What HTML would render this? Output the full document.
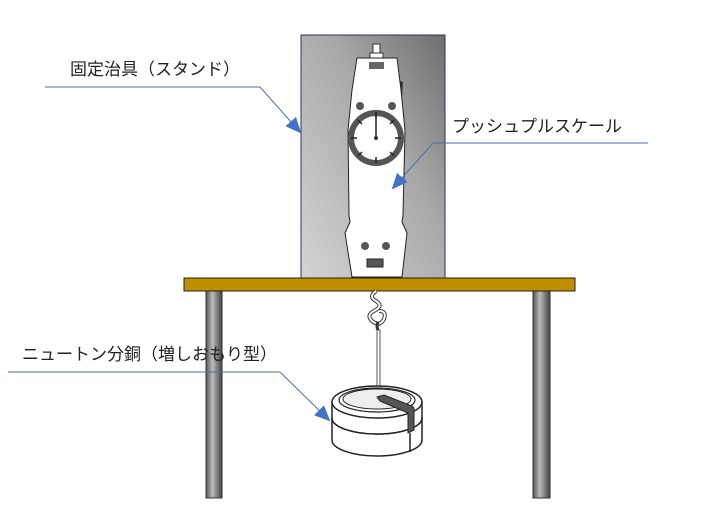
<!DOCTYPE html>
<html><head><meta charset="utf-8"><style>
html,body{margin:0;padding:0;background:#fff;}
svg{display:block;}
text{font-family:"Liberation Sans","Noto Sans CJK JP",sans-serif;font-size:17px;fill:#222;}
</style></head><body>
<svg width="706" height="512" viewBox="0 0 706 512">
<defs>
<linearGradient id="st" x1="0" x2="1" y1="1" y2="0"><stop offset="0" stop-color="#d4d4d4"/><stop offset="0.6" stop-color="#a8a8a8"/><stop offset="1" stop-color="#6e6e6e"/></linearGradient>
<linearGradient id="leg" x1="0" x2="1"><stop offset="0" stop-color="#555"/><stop offset="0.4" stop-color="#bbb"/><stop offset="1" stop-color="#444"/></linearGradient>
<marker id="ar" markerWidth="16" markerHeight="16" refX="14" refY="7" orient="auto" markerUnits="userSpaceOnUse" viewBox="0 0 16 14"><path d="M0,0 L16,7 L0,14 z" fill="#4472c4"/></marker>
</defs>
<rect x="301" y="35" width="144" height="243" fill="url(#st)" stroke="#2a3450" stroke-width="1"/>
<rect x="206" y="291" width="16" height="207" fill="url(#leg)" stroke="#333"/>
<rect x="533" y="291" width="17" height="207" fill="url(#leg)" stroke="#333"/>
<rect x="373" y="44" width="7" height="10" fill="#fff" stroke="#333"/>
<rect x="370" y="53" width="13" height="5" fill="#fff" stroke="#333"/>
<polygon points="397,80 403,82 402,98 396,96" fill="#333"/>
<polygon points="357,58 397,58 401,90 405,130 403,215 402,222 407,233 402,277 352,277 345,233 350,222 349,215 348,130 352,90" fill="#fff" stroke="#222" stroke-width="1"/>
<rect x="369" y="62" width="15" height="7" fill="#666"/>
<circle cx="360" cy="106" r="4" fill="#555"/><circle cx="392" cy="106" r="4" fill="#555"/>
<circle cx="376" cy="138" r="25" fill="#fff" stroke="#555" stroke-width="6"/>
<g stroke="#222" stroke-width="1.5">
<line x1="376" y1="113" x2="376" y2="119"/><line x1="376" y1="157" x2="376" y2="163"/>
<line x1="351" y1="138" x2="357" y2="138"/><line x1="395" y1="138" x2="401" y2="138"/>
<line x1="358" y1="120" x2="362" y2="124"/><line x1="394" y1="120" x2="390" y2="124"/>
<line x1="358" y1="156" x2="362" y2="152"/><line x1="394" y1="156" x2="390" y2="152"/>
</g>
<line x1="376" y1="138" x2="376" y2="112" stroke="#222" stroke-width="1.5"/>
<circle cx="376" cy="138" r="2" fill="#333"/>
<circle cx="365" cy="246" r="4" fill="#555"/><circle cx="386" cy="246" r="4" fill="#555"/>
<rect x="367" y="259" width="16" height="8" fill="#555" stroke="#222"/>
<rect x="184" y="278" width="391" height="13" fill="#bf8f00" stroke="#222" stroke-width="1"/>
<path d="M376,291 q-8,6 0,10 q8,5 -2,10 q-8,4 -2,10 q8,6 12,-2 q3,-8 -5,-8" fill="none" stroke="#333" stroke-width="4"/>
<path d="M376,291 q-8,6 0,10 q8,5 -2,10 q-8,4 -2,10 q8,6 12,-2 q3,-8 -5,-8" fill="none" stroke="#fff" stroke-width="2"/>
<path d="M378,322 q-2,4 0,8" fill="none" stroke="#333" stroke-width="3"/>
<rect x="377" y="330" width="3" height="68" fill="#fff" stroke="#333" stroke-width="0.8"/>
<path d="M332,418 L332,440 A45,16 0 0 0 422,440 L422,418" fill="#fff" stroke="#222" stroke-width="1.5"/>
<path d="M332,418 A45,16 0 0 0 422,418" fill="none" stroke="#222" stroke-width="1.5"/>
<path d="M332,402 L332,418 A45,16 0 0 0 422,418 L422,402" fill="#fff" stroke="#222" stroke-width="1.5"/>
<ellipse cx="377" cy="402" rx="45" ry="16" fill="#fff" stroke="#222" stroke-width="1.5"/>
<ellipse cx="377" cy="400" rx="38" ry="12" fill="none" stroke="#222" stroke-width="1.2"/>
<ellipse cx="377" cy="399" rx="34" ry="10" fill="#eee" stroke="#222" stroke-width="1"/>
<polygon points="377,397 384,395 412,406 414,408 414,430 408,433 408,413 380,401" fill="#555" stroke="#222"/>
<line x1="410" y1="433" x2="410" y2="452" stroke="#222" stroke-width="1.5"/>
<text x="70" y="75">固定治具（スタンド）</text>
<polyline points="45,87 260,87 300,132" fill="none" stroke="#4a6fa5" stroke-width="1" marker-end="url(#ar)"/>
<text x="452" y="132">プッシュプルスケール</text>
<polyline points="648,143 433,143 393,188" fill="none" stroke="#4a6fa5" stroke-width="1" marker-end="url(#ar)"/>
<text x="22" y="360">ニュートン分銅（増しおもり型）</text>
<polyline points="8,372 280,372 329,420" fill="none" stroke="#4a6fa5" stroke-width="1" marker-end="url(#ar)"/>
</svg>
</body></html>
